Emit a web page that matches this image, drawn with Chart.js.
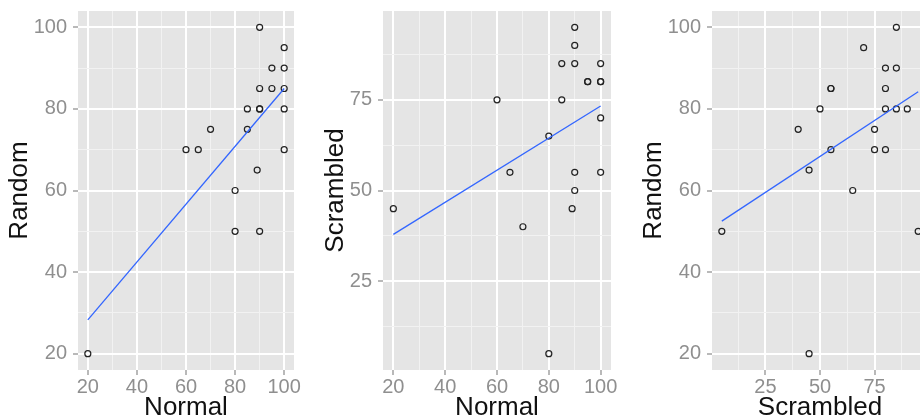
<!DOCTYPE html>
<html>
<head>
<meta charset="utf-8">
<script src="https://cdn.jsdelivr.net/npm/chart.js@4.4.1/dist/chart.umd.min.js"></script>
<style>
  html, body { margin: 0; padding: 0; background: #fff; overflow: hidden; width: 920px; height: 420px; }
  .panel { position: absolute; top: 0; }
</style>
</head>
<body>
<div class="panel" style="left:0px"><canvas id="p1" width="314" height="430"></canvas></div>
<div class="panel" style="left:316px"><canvas id="p2" width="315" height="430"></canvas></div>
<div class="panel" style="left:634px"><canvas id="p3" width="314" height="430"></canvas></div>
<script>
// scores for each participant, one row per person
const normal    = [20, 80, 70, 60, 65, 89, 80, 90, 100, 85, 85, 95, 95, 90, 100, 100, 90, 100, 90, 90, 100];
const random    = [20, 50, 75, 70, 70, 65, 60, 50, 70, 75, 80, 90, 85, 100, 95, 90, 85, 85, 80, 80, 80];
const scrambled = [45, 5, 40, 75, 55, 45, 65, 95, 80, 75, 85, 80, 80, 85, 70, 85, 55, 55, 90, 50, 80];

// fitted lines (lm): start and end
const fitNormalRandomX = [20, 100];
const fitNormalRandomY = [28.3, 85];
const fitNormalScrambledX = [20, 100];
const fitNormalScrambledY = [37.9, 73.3];
const fitScrambledRandomX = [5, 95];
const fitScrambledRandomY = [52.5, 84.2];

// tick labels (major) and minor grid breaks
const ticks20 = [20, 40, 60, 80, 100];
const minor20 = [30, 50, 70, 90];
const ticks25 = [25, 50, 75];
const minor25 = [12.5, 37.5, 62.5, 87.5];

const bgPlugin = {
  id: 'panelBg',
  beforeDraw(chart) {
    const a = chart.chartArea, ctx = chart.ctx;
    ctx.save();
    ctx.fillStyle = '#E5E5E5';
    ctx.fillRect(a.left, a.top, a.right - a.left, a.bottom - a.top);
    ctx.restore();
  }
};

function pairs(xs, ys) {
  return xs.map((x, i) => ({ x: x, y: ys[i] }));
}

function axis(title, range, major, minor, isX, yWidth) {
  const all = major.concat(minor).sort((a, b) => a - b);
  const isMajor = v => major.indexOf(v) >= 0;
  return {
    type: 'linear',
    position: isX ? 'bottom' : 'left',
    min: range[0],
    max: range[1],
    afterBuildTicks: s => { s.ticks = all.map(v => ({ value: v })); },
    afterFit: s => {
      if (isX) s.height = 60; else s.width = yWidth;
      // labels may hang over the panel edge, like ggplot
      s.paddingTop = 0; s.paddingBottom = 0; s.paddingLeft = 0; s.paddingRight = 0;
    },
    border: { display: false },
    grid: {
      color: c => isMajor(c.tick.value) ? '#FFFFFF' : '#F2F2F2',
      lineWidth: c => isMajor(c.tick.value) ? 2 : 1,
      tickColor: c => isMajor(c.tick.value) ? '#8a8a8a' : 'rgba(0,0,0,0)',
      tickLength: 5,
      tickWidth: 1.2
    },
    ticks: {
      autoSkip: false,
      maxRotation: 0,
      padding: isX ? 0 : 6,
      color: '#8f8f8f',
      font: { family: 'Liberation Sans', size: 20 },
      callback: v => isMajor(v) ? v : ''
    },
    title: {
      display: true,
      text: title,
      color: '#111',
      font: { family: 'Liberation Sans', size: 26 },
      padding: isX ? { top: 0, bottom: 7 } : { top: 4, bottom: 0 }
    }
  };
}

function makePanel(id, pts, fit, xAxis, yAxis) {
  new Chart(id, {
    type: 'scatter',
    data: {
      datasets: [{
        data: fit,
        showLine: true,
        borderColor: '#3366FF',
        borderWidth: 1.3,
        pointRadius: 0,
        order: 0
      }, {
        data: pts,
        pointRadius: 3,
        pointBorderWidth: 1.2,
        borderColor: '#222',
        backgroundColor: 'rgba(0,0,0,0)',
        order: 1
      }]
    },
    options: {
      responsive: false,
      animation: false,
      layout: { padding: { top: 11, right: 20, left: 0, bottom: 0 } },
      plugins: { legend: { display: false }, tooltip: { enabled: false } },
      scales: { x: xAxis, y: yAxis }
    },
    plugins: [bgPlugin]
  });
}

makePanel('p1', pairs(normal, random), pairs(fitNormalRandomX, fitNormalRandomY),
  axis('Normal', [16, 104], ticks20, minor20, true),
  axis('Random', [16, 104], ticks20, minor20, false, 78));

makePanel('p2', pairs(normal, scrambled), pairs(fitNormalScrambledX, fitNormalScrambledY),
  axis('Normal', [16, 104], ticks20, minor20, true),
  axis('Scrambled', [0.5, 99.5], ticks25, minor25, false, 67));

makePanel('p3', pairs(scrambled, random), pairs(fitScrambledRandomX, fitScrambledRandomY),
  axis('Scrambled', [0.5, 99.5], ticks25, minor25, true),
  axis('Random', [16, 104], ticks20, minor20, false, 78));
</script>
</body>
</html>
